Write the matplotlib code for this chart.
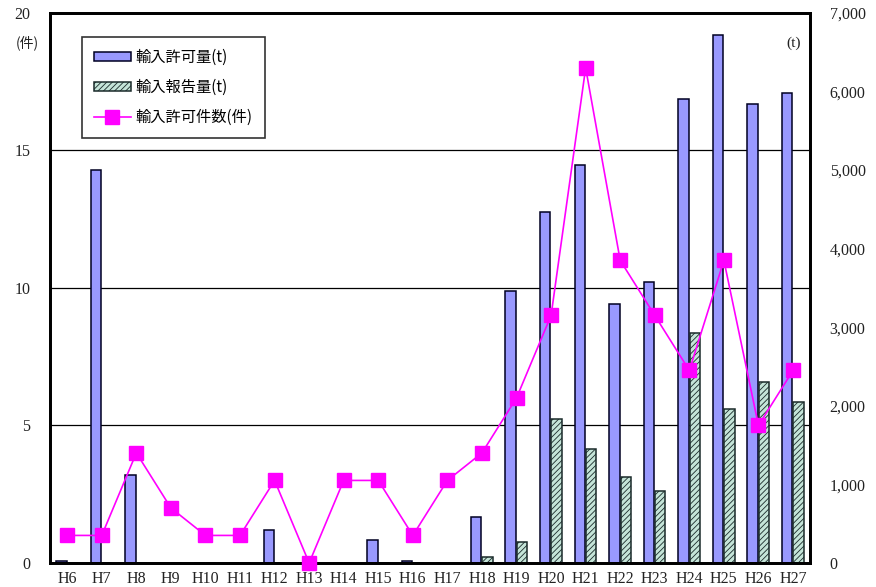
import matplotlib
matplotlib.use('Agg')
import matplotlib.pyplot as plt
import numpy as np

plt.rcParams['font.family'] = ['Liberation Serif', 'Noto Sans CJK JP']
plt.rcParams['hatch.linewidth'] = 0.6

years = ['H6', 'H7', 'H8', 'H9', 'H10', 'H11', 'H12', 'H13', 'H14', 'H15', 'H16',
         'H17', 'H18', 'H19', 'H20', 'H21', 'H22', 'H23', 'H24', 'H25', 'H26', 'H27']
permit_tons = [20, 5000, 1120, 0, 0, 0, 420, 0, 0, 290, 20,
               0, 590, 3460, 4470, 5065, 3300, 3575, 5905, 6720, 5842, 5985]
report_tons = [0, 0, 0, 0, 0, 0, 0, 0, 0, 0, 0,
               0, 80, 270, 1830, 1447, 1100, 916, 2927, 1960, 2307, 2049]
permit_count = [1, 1, 4, 2, 1, 1, 3, 0, 3, 3, 1,
                3, 4, 6, 9, 18, 11, 9, 7, 11, 5, 7]

JP = ['Noto Sans CJK JP']

fig = plt.figure(figsize=(8.76, 5.87), dpi=100)
ax = fig.add_axes([0.057, 0.041, 0.868, 0.937])
ax2 = ax.twinx()

x = np.arange(len(years))
w = 0.3

# bars on the right-hand (t) axis
ax2.bar(x - 0.17, permit_tons, w, color='#9999FF', edgecolor='#000022',
        linewidth=1.1, label='輸入許可量(t)', zorder=2)
ax2.bar(x + 0.16, report_tons, w, color='#C4E4D8', edgecolor='#1a2a2a',
        hatch='//////', linewidth=1.1, label='輸入報告量(t)', zorder=2)
ax2.set_ylim(0, 7000)
ax2.set_yticks(np.arange(0, 7001, 1000))
ax2.set_yticklabels([f'{v:,}' for v in range(0, 7001, 1000)])

# line on the left-hand (件) axis, drawn on top
ax.set_zorder(ax2.get_zorder() + 1)
ax.patch.set_visible(False)
ax.plot(x, permit_count, color='#FF00FF', linewidth=1.2, marker='s',
        markersize=9.5, label='輸入許可件数(件)', zorder=4, clip_on=False)
ax.set_ylim(0, 20)
ax.set_yticks([0, 5, 10, 15, 20])
ax.set_xlim(-0.5, len(years) - 0.5)
ax.set_xticks(x)
ax.set_xticklabels(years)

for yv in [5, 10, 15]:
    ax2.axhline(yv * 350, color='black', linewidth=0.9, zorder=1)

for a in (ax, ax2):
    for s in a.spines.values():
        s.set_linewidth(2.0)
    a.tick_params(length=0, labelsize=11.5, colors='#222222')
ax.tick_params(axis='x', pad=6)
ax.tick_params(axis='y', pad=14)
ax2.tick_params(axis='y', pad=14)

fig.text(0.031, 0.927, '(件)', fontsize=10, family=JP, ha='center', va='center',
         color='#222222')
ax2.text(0.988, 0.945, '(t)', transform=ax.transAxes, fontsize=11,
         ha='right', va='center', color='#222222')

h1, l1 = ax2.get_legend_handles_labels()
h2, l2 = ax.get_legend_handles_labels()
leg = ax.legend(h1 + h2, l1 + l2, loc='upper left', bbox_to_anchor=(0.042, 0.957),
                borderaxespad=0, prop={'family': JP, 'size': 11}, fancybox=False,
                frameon=True, edgecolor='black', handlelength=2.4,
                handleheight=0.5, labelspacing=0.85, borderpad=0.8,
                handletextpad=0.3)
leg.get_frame().set_linewidth(1.2)

fig.savefig('out.png', dpi=100, facecolor='white')
